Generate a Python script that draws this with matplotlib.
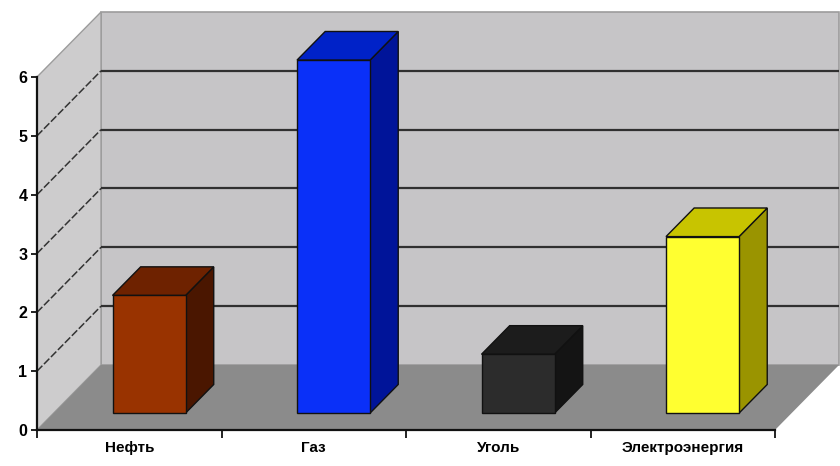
import matplotlib
matplotlib.use('Agg')
import matplotlib.pyplot as plt
from matplotlib.patches import Polygon

# ---- data ----
categories = ['Нефть', 'Газ', 'Уголь', 'Электроэнергия']
values = [2, 6, 1, 3]
y_ticks = [0, 1, 2, 3, 4, 5, 6]

# ---- styles ----
front_colors = ['#993300', '#0a30f8', '#2c2c2c', '#ffff30']
top_colors = ['#6e2200', '#0022c8', '#1c1c1c', '#c8c400']
side_colors = ['#4a1600', '#001499', '#141414', '#9a9400']
back_wall = '#c6c5c7'
left_wall = '#cdcccd'
floor_col = '#8b8b8b'
edge_gray = '#9c9c9c'

font = ['Liberation Sans Narrow', 'Liberation Sans', 'DejaVu Sans']

fig = plt.figure(figsize=(8.4, 4.66), dpi=100)
ax = fig.add_axes([37 / 840, 36 / 466, 738 / 840, 353 / 466])
ax.set_xlim(0, len(categories))
ax.set_ylim(min(y_ticks), max(y_ticks))
ax.set_facecolor('none')

# oblique depth projection (in data units)
KX, KY = 0.347, 1.105


def P(x, v, d):
    return (x + d * KX, v + d * KY)


n = len(categories)
vmax = max(y_ticks)

# back wall
ax.add_patch(Polygon([P(0, 0, 1), P(n, 0, 1), P(n, vmax, 1), P(0, vmax, 1)],
                     closed=True, fc=back_wall, ec=edge_gray, lw=1.2,
                     clip_on=False, zorder=0.5))
# left wall
ax.add_patch(Polygon([P(0, 0, 0), P(0, 0, 1), P(0, vmax, 1), P(0, vmax, 0)],
                     closed=True, fc=left_wall, ec=edge_gray, lw=1.0,
                     clip_on=False, zorder=0.6))
# floor
ax.add_patch(Polygon([P(0, 0, 0), P(n, 0, 0), P(n, 0, 1), P(0, 0, 1)],
                     closed=True, fc=floor_col, ec='none',
                     clip_on=False, zorder=0.7))

# gridlines on back wall + dashed connectors on left wall
for v in y_ticks[1:-1]:
    a, b = P(0, v, 1), P(n, v, 1)
    ax.plot([a[0], b[0]], [a[1], b[1]], color='#303030', lw=1.6,
            clip_on=False, zorder=0.8, solid_capstyle='butt')
    c0, c1 = P(0, v, 0), P(0, v, 1)
    ax.plot([c0[0], c1[0]], [c0[1], c1[1]], color='#333333', lw=1.1,
            dashes=(5, 1.5), clip_on=False, zorder=0.8)

# bars
w, d0, d1, xoff = 0.198, 0.26, 0.70, 0.017
for i, v in enumerate(values):
    c = i + 0.5 + xoff
    front = [P(c - w, 0, d0), P(c + w, 0, d0), P(c + w, v, d0), P(c - w, v, d0)]
    top = [P(c - w, v, d0), P(c + w, v, d0), P(c + w, v, d1), P(c - w, v, d1)]
    side = [P(c + w, 0, d0), P(c + w, 0, d1), P(c + w, v, d1), P(c + w, v, d0)]
    for pts, col in ((side, side_colors[i]), (top, top_colors[i]), (front, front_colors[i])):
        ax.add_patch(Polygon(pts, closed=True, fc=col, ec='#111111', lw=1.0,
                             clip_on=False, zorder=3, joinstyle='miter'))

# axes / ticks
for s in ('top', 'right'):
    ax.spines[s].set_visible(False)
for s in ('left', 'bottom'):
    ax.spines[s].set_color('#111111')
    ax.spines[s].set_linewidth(1.6)
    ax.spines[s].set_zorder(4)

ax.set_yticks(y_ticks)
ax.set_yticklabels([str(t) for t in y_ticks], fontfamily=font,
                   fontweight='bold', fontsize=11.5)
ax.tick_params(axis='y', direction='out', length=4, width=1.3, pad=3,
               color='#111111')

ax.set_xticks([i + 0.5 for i in range(n)])
ax.set_xticklabels(categories, fontfamily=font, fontweight='bold', fontsize=11)
ax.set_xticks(list(range(n + 1)), minor=True)
ax.tick_params(axis='x', which='major', length=0, pad=8)
ax.tick_params(axis='x', which='minor', direction='out', length=6, width=1.3,
               color='#111111')

fig.savefig('out.png', dpi=100, facecolor='white')
